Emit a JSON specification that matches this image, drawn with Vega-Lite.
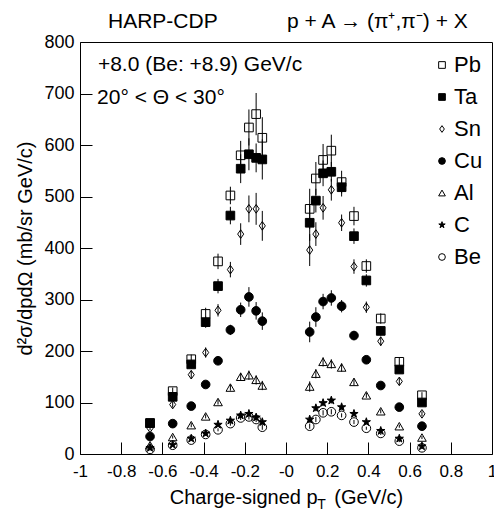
{
  "$schema": "https://vega.github.io/schema/vega-lite/v6.json",
  "autosize": "none",
  "width": 412,
  "height": 412,
  "padding": {"left": 80, "top": 42, "right": 2, "bottom": 58},
  "background": "white",
  "config": {
    "font": "Liberation Sans",
    "view": {"stroke": "black", "strokeWidth": 1},
    "axis": {"grid": false, "domain": false, "tickColor": "black", "labelColor": "black", "titleColor": "black", "labelFont": "Liberation Sans", "titleFont": "Liberation Sans", "titleFontWeight": "normal", "labelOverlap": false, "labelFlush": false},
    "legend": {"title": null, "orient": "none", "legendX": 351, "legendY": 12, "labelFontSize": 22, "labelFont": "Liberation Sans", "labelColor": "black", "symbolSize": 45, "symbolStrokeWidth": 1, "rowPadding": 10, "labelOffset": 1, "padding": 0}
  },
  "datasets": {"pts": [
    {"t":"Pb","x":-0.66,"y":60,"e":5},{"t":"Pb","x":-0.55,"y":122,"e":7},{"t":"Pb","x":-0.46,"y":184,"e":9},{"t":"Pb","x":-0.39,"y":272,"e":12},{"t":"Pb","x":-0.33,"y":374,"e":15},{"t":"Pb","x":-0.27,"y":502,"e":17},{"t":"Pb","x":-0.22,"y":580,"e":28},{"t":"Pb","x":-0.18,"y":634,"e":35},{"t":"Pb","x":-0.145,"y":660,"e":41},{"t":"Pb","x":-0.115,"y":614,"e":40},
    {"t":"Pb","x":0.115,"y":476,"e":39},{"t":"Pb","x":0.145,"y":535,"e":32},{"t":"Pb","x":0.18,"y":571,"e":31},{"t":"Pb","x":0.22,"y":589,"e":31},{"t":"Pb","x":0.27,"y":528,"e":22},{"t":"Pb","x":0.33,"y":462,"e":18},{"t":"Pb","x":0.39,"y":365,"e":13},{"t":"Pb","x":0.46,"y":263,"e":10},{"t":"Pb","x":0.55,"y":179,"e":8},{"t":"Pb","x":0.66,"y":114,"e":6},
    {"t":"Ta","x":-0.66,"y":60,"e":5},{"t":"Ta","x":-0.55,"y":111,"e":6},{"t":"Ta","x":-0.46,"y":174,"e":8},{"t":"Ta","x":-0.39,"y":256,"e":11},{"t":"Ta","x":-0.33,"y":326,"e":14},{"t":"Ta","x":-0.27,"y":463,"e":17},{"t":"Ta","x":-0.22,"y":554,"e":28},{"t":"Ta","x":-0.18,"y":582,"e":31},{"t":"Ta","x":-0.145,"y":575,"e":28},{"t":"Ta","x":-0.115,"y":572,"e":39},
    {"t":"Ta","x":0.115,"y":449,"e":35},{"t":"Ta","x":0.145,"y":492,"e":23},{"t":"Ta","x":0.18,"y":545,"e":25},{"t":"Ta","x":0.22,"y":548,"e":19},{"t":"Ta","x":0.27,"y":518,"e":18},{"t":"Ta","x":0.33,"y":423,"e":15},{"t":"Ta","x":0.39,"y":337,"e":12},{"t":"Ta","x":0.46,"y":239,"e":9},{"t":"Ta","x":0.55,"y":164,"e":7},{"t":"Ta","x":0.66,"y":100,"e":5},
    {"t":"Sn","x":-0.66,"y":50,"e":4},{"t":"Sn","x":-0.55,"y":96,"e":6},{"t":"Sn","x":-0.46,"y":154,"e":8},{"t":"Sn","x":-0.39,"y":197,"e":10},{"t":"Sn","x":-0.33,"y":279,"e":12},{"t":"Sn","x":-0.27,"y":358,"e":15},{"t":"Sn","x":-0.22,"y":427,"e":21},{"t":"Sn","x":-0.18,"y":476,"e":26},{"t":"Sn","x":-0.145,"y":476,"e":31},{"t":"Sn","x":-0.115,"y":443,"e":29},
    {"t":"Sn","x":0.115,"y":396,"e":31},{"t":"Sn","x":0.145,"y":427,"e":23},{"t":"Sn","x":0.18,"y":478,"e":23},{"t":"Sn","x":0.22,"y":513,"e":21},{"t":"Sn","x":0.27,"y":449,"e":16},{"t":"Sn","x":0.33,"y":364,"e":14},{"t":"Sn","x":0.39,"y":285,"e":11},{"t":"Sn","x":0.46,"y":219,"e":9},{"t":"Sn","x":0.55,"y":141,"e":7},{"t":"Sn","x":0.66,"y":78,"e":5},
    {"t":"Cu","x":-0.66,"y":34,"e":3},{"t":"Cu","x":-0.55,"y":59,"e":4},{"t":"Cu","x":-0.46,"y":93,"e":5},{"t":"Cu","x":-0.39,"y":135,"e":7},{"t":"Cu","x":-0.33,"y":181,"e":8},{"t":"Cu","x":-0.27,"y":241,"e":10},{"t":"Cu","x":-0.22,"y":280,"e":14},{"t":"Cu","x":-0.18,"y":305,"e":19},{"t":"Cu","x":-0.145,"y":278,"e":17},{"t":"Cu","x":-0.115,"y":258,"e":17},
    {"t":"Cu","x":0.115,"y":237,"e":20},{"t":"Cu","x":0.145,"y":266,"e":19},{"t":"Cu","x":0.18,"y":296,"e":15},{"t":"Cu","x":0.22,"y":303,"e":15},{"t":"Cu","x":0.27,"y":287,"e":12},{"t":"Cu","x":0.33,"y":230,"e":9},{"t":"Cu","x":0.39,"y":183,"e":8},{"t":"Cu","x":0.46,"y":133,"e":6},{"t":"Cu","x":0.55,"y":91,"e":5},{"t":"Cu","x":0.66,"y":54,"e":4},
    {"t":"Al","x":-0.66,"y":17,"e":2},{"t":"Al","x":-0.55,"y":33,"e":3},{"t":"Al","x":-0.46,"y":56,"e":4},{"t":"Al","x":-0.39,"y":73,"e":4},{"t":"Al","x":-0.33,"y":101,"e":5},{"t":"Al","x":-0.27,"y":129,"e":6},{"t":"Al","x":-0.22,"y":150,"e":8},{"t":"Al","x":-0.18,"y":153,"e":9},{"t":"Al","x":-0.145,"y":144,"e":9},{"t":"Al","x":-0.115,"y":133,"e":9},
    {"t":"Al","x":0.115,"y":131,"e":10},{"t":"Al","x":0.145,"y":156,"e":9},{"t":"Al","x":0.18,"y":179,"e":9},{"t":"Al","x":0.22,"y":175,"e":9},{"t":"Al","x":0.27,"y":168,"e":8},{"t":"Al","x":0.33,"y":140,"e":7},{"t":"Al","x":0.39,"y":114,"e":5},{"t":"Al","x":0.46,"y":83,"e":4},{"t":"Al","x":0.55,"y":54,"e":3},{"t":"Al","x":0.66,"y":32,"e":3},
    {"t":"C","x":-0.66,"y":12,"e":2},{"t":"C","x":-0.55,"y":18,"e":2},{"t":"C","x":-0.46,"y":30,"e":3},{"t":"C","x":-0.39,"y":40,"e":3},{"t":"C","x":-0.33,"y":57,"e":3},{"t":"C","x":-0.27,"y":65,"e":4},{"t":"C","x":-0.22,"y":75,"e":5},{"t":"C","x":-0.18,"y":78,"e":5},{"t":"C","x":-0.145,"y":71,"e":5},{"t":"C","x":-0.115,"y":62,"e":5},
    {"t":"C","x":0.115,"y":67,"e":6},{"t":"C","x":0.145,"y":89,"e":6},{"t":"C","x":0.18,"y":99,"e":6},{"t":"C","x":0.22,"y":104,"e":6},{"t":"C","x":0.27,"y":91,"e":5},{"t":"C","x":0.33,"y":78,"e":4},{"t":"C","x":0.39,"y":62,"e":4},{"t":"C","x":0.46,"y":45,"e":3},{"t":"C","x":0.55,"y":30,"e":2},{"t":"C","x":0.66,"y":15,"e":2},
    {"t":"Be","x":-0.66,"y":9,"e":2},{"t":"Be","x":-0.55,"y":17,"e":2},{"t":"Be","x":-0.46,"y":27,"e":2},{"t":"Be","x":-0.39,"y":38,"e":3},{"t":"Be","x":-0.33,"y":47,"e":3},{"t":"Be","x":-0.27,"y":59,"e":4},{"t":"Be","x":-0.22,"y":70,"e":4},{"t":"Be","x":-0.18,"y":72,"e":5},{"t":"Be","x":-0.145,"y":67,"e":5},{"t":"Be","x":-0.115,"y":52,"e":5},
    {"t":"Be","x":0.115,"y":54,"e":5},{"t":"Be","x":0.145,"y":67,"e":5},{"t":"Be","x":0.18,"y":80,"e":5},{"t":"Be","x":0.22,"y":82,"e":5},{"t":"Be","x":0.27,"y":75,"e":4},{"t":"Be","x":0.33,"y":62,"e":4},{"t":"Be","x":0.39,"y":50,"e":3},{"t":"Be","x":0.46,"y":40,"e":3},{"t":"Be","x":0.55,"y":25,"e":2},{"t":"Be","x":0.66,"y":12,"e":2}
  ],
  "notes": [
    {"label": "HARP-CDP", "px": -0.864, "py": 827},
    {"label": "p + A → (π⁺,π⁻) + X", "px": 0.005, "py": 827},
    {"label": "+8.0 (Be: +8.9) GeV/c", "px": -0.913, "py": 743},
    {"label": "20° < Θ < 30°", "px": -0.917, "py": 680}
  ]},
  "layer": [
    {
      "data": {"name": "pts"},
      "mark": {"type": "errorbar", "color": "black", "thickness": 1},
      "encoding": {
        "x": {"field": "x", "type": "quantitative", "title": "Charge-signed p\u00a0\u00a0\u00a0(GeV/c)", "scale": {"domain": [-1, 1], "nice": false, "zero": false}},
        "y": {"field": "y", "type": "quantitative", "title": "d²σ/dpdΩ (mb/sr GeV/c)", "scale": {"domain": [0, 800], "nice": false}},
        "yError": {"field": "e"}
      }
    },
    {
      "data": {"name": "pts"},
      "mark": {"type": "point", "filled": true, "size": 75, "strokeWidth": 1, "opacity": 1},
      "encoding": {
        "x": {"field": "x", "type": "quantitative", "title": "Charge-signed p\u00a0\u00a0\u00a0(GeV/c)", "scale": {"domain": [-1, 1], "nice": false, "zero": false},
          "axis": {
            "values": [-1,-0.95,-0.9,-0.85,-0.8,-0.75,-0.7,-0.65,-0.6,-0.55,-0.5,-0.45,-0.4,-0.35,-0.3,-0.25,-0.2,-0.15,-0.1,-0.05,0,0.05,0.1,0.15,0.2,0.25,0.3,0.35,0.4,0.45,0.5,0.55,0.6,0.65,0.7,0.75,0.8,0.85,0.9,0.95,1],
            "labelExpr": "abs(round(datum.value*20)) % 4 === 0 ? (datum.value === 0 ? '-0' : '' + datum.value) : ''",
            "tickSize": {"condition": {"test": "abs(round(datum.value*20)) % 4 === 0", "value": -12}, "value": -6},
            "labelPadding": 21,
            "labelFontSize": 17,
            "titleFontSize": 20,
            "titlePadding": 8
          }},
        "y": {"field": "y", "type": "quantitative", "title": "d²σ/dpdΩ (mb/sr GeV/c)", "scale": {"domain": [0, 800], "nice": false},
          "axis": {
            "values": [0,25,50,75,100,125,150,175,200,225,250,275,300,325,350,375,400,425,450,475,500,525,550,575,600,625,650,675,700,725,750,775,800],
            "labelExpr": "round(datum.value) % 100 === 0 ? datum.label : ''",
            "tickSize": {"condition": {"test": "round(datum.value) % 100 === 0", "value": -12}, "value": -6},
            "labelPadding": 18,
            "labelFontSize": 18,
            "titleFontSize": 20,
            "titlePadding": 8
          }},
        "shape": {"field": "t", "type": "nominal",
          "scale": {"domain": ["Pb","Ta","Sn","Cu","Al","C","Be"],
            "range": ["square","square","M0,-1L0.7,0L0,1L-0.7,0Z","circle","triangle-up","M0,-1L0.2245,-0.309L0.951,-0.309L0.363,0.118L0.588,0.809L0,0.382L-0.588,0.809L-0.363,0.118L-0.951,-0.309L-0.2245,-0.309Z","circle"]}},
        "fill": {"field": "t", "type": "nominal",
          "scale": {"domain": ["Pb","Ta","Sn","Cu","Al","C","Be"], "range": ["transparent","black","transparent","black","transparent","black","transparent"]}},
        "stroke": {"field": "t", "type": "nominal",
          "scale": {"domain": ["Pb","Ta","Sn","Cu","Al","C","Be"], "range": ["black","black","black","black","black","black","black"]}}
      }
    },
    {
      "data": {"name": "notes"},
      "mark": {"type": "text", "fontSize": 21, "align": "left", "baseline": "alphabetic", "color": "black", "font": "Liberation Sans"},
      "encoding": {
        "x": {"field": "px", "type": "quantitative", "title": "Charge-signed p\u00a0\u00a0\u00a0(GeV/c)"},
        "y": {"field": "py", "type": "quantitative", "title": "d²σ/dpdΩ (mb/sr GeV/c)"},
        "text": {"field": "label"}
      }
    },
    {
      "data": {"values": [{"label": "T", "px": 0.172, "py": -106}]},
      "mark": {"type": "text", "fontSize": 14, "align": "center", "baseline": "alphabetic", "color": "black", "font": "Liberation Sans"},
      "encoding": {
        "x": {"field": "px", "type": "quantitative", "title": "Charge-signed p\u00a0\u00a0\u00a0(GeV/c)"},
        "y": {"field": "py", "type": "quantitative", "title": "d²σ/dpdΩ (mb/sr GeV/c)"},
        "text": {"field": "label"}
      }
    }
  ]
}
